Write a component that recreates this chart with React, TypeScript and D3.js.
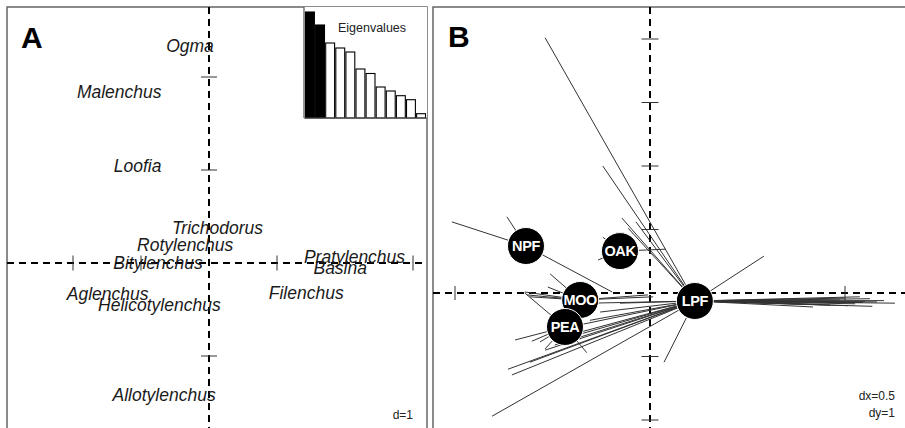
import React from "react";
import * as d3 from "d3";

const WIDTH = 905;
const HEIGHT = 428;
const FONT = "'Liberation Sans', Arial, sans-serif";

// panel A: genus scores
const genera = [
  "Ogma", "Malenchus", "Loofia", "Trichodorus", "Rotylenchus", "Bitylenchus",
  "Pratylenchus", "Basina", "Filenchus", "Aglenchus", "Helicotylenchus", "Allotylenchus"
];
const genusX = [-0.28, -1.32, -1.05, 0.125, -0.35, -0.75, 2.14, 1.93, 1.43, -1.49, -0.73, -0.66];
const genusY = [2.33, 1.84, 1.04, 0.376, 0.194, 0.0, 0.065, -0.054, -0.32, -0.333, -0.45, -1.42];
const ticksAX = [-2, -1, 1, 3];
const ticksAY = [-1, 1, 2];

// eigenvalue inset
const eigenvalues = [10.6, 9.3, 7.5, 7.0, 6.6, 4.9, 4.45, 3.1, 2.7, 2.23, 1.83, 0.43];
const keptAxes = 2;

// panel B: sites (class centroids) and samples
const sites = ["NPF", "OAK", "MOO", "PEA", "LPF"];
const siteX = [-0.318, -0.077, -0.179, -0.218, 0.115];
const siteY = [0.74, 0.66, -0.11, -0.535, -0.126];

const sampleSite = [
  "NPF", "NPF", "NPF",
  "OAK", "OAK", "OAK",
  "MOO", "MOO", "MOO", "MOO", "MOO", "MOO", "MOO",
  "PEA", "PEA", "PEA", "PEA", "PEA", "PEA",
  "LPF", "LPF", "LPF", "LPF", "LPF", "LPF", "LPF",
  "LPF", "LPF", "LPF", "LPF", "LPF", "LPF", "LPF", "LPF", "LPF", "LPF", "LPF",
  "LPF", "LPF", "LPF", "LPF", "LPF", "LPF",
  "LPF", "LPF", "LPF", "LPF", "LPF", "LPF", "LPF", "LPF", "LPF", "LPF", "LPF", "LPF", "LPF"
];
const sampleX = [
  -0.508, -0.367, -0.097,
  -0.121, -0.133, 0.041,
  -0.256, -0.262, -0.321, -0.315, -0.308, 0.008, -0.005,
  -0.321, -0.346, -0.303, -0.282, -0.162, -0.269,
  -0.269, -0.121, -0.072, -0.056, -0.036, 0.292, 0.036,
  0.628, 0.582, 0.538, 0.508, 0.418, 0.564, 0.526, 0.487, 0.462, 0.551, 0.385,
  0.6, 0.545, 0.5, 0.47, 0.44, 0.57,
  -0.405, -0.364, -0.354, -0.308, -0.269, -0.244, -0.231, -0.205, -0.179, -0.154, -0.128, -0.077, -0.154
];
const sampleY = [
  1.12, 1.2, 0.016,
  0.88, 0.52, 0.69,
  0.3, 0.094, 0.016, -0.03, -0.06, -0.06, -0.03,
  0.0, -0.74, -0.76, -0.77, -0.94, -0.88,
  4.02, 2.0, 1.18, 1.02, 1.12, 0.58, -1.09,
  -0.16, -0.14, -0.06, -0.2, -0.22, -0.09, -0.17, -0.11, -0.19, -0.13, -0.16,
  -0.12, -0.15, -0.08, -0.14, -0.18, -0.21,
  -1.94, -1.2, -1.29, -1.09, -0.9, -0.82, -0.74, -0.66, -0.5, -0.43, -0.3, -0.16, -0.16
];
const ticksBX = [-0.5, 0.5];
const ticksBY = [-2, -1, 1, 2, 3, 4];

const xA = d3.scaleLinear().domain([0, 1]).range([209, 277]);
const yA = d3.scaleLinear().domain([0, 1]).range([263, 170]);
const xB = d3.scaleLinear().domain([0, 0.5]).range([650, 845]);
const yB = d3.scaleLinear().domain([0, 1]).range([293, 229.5]);

const eigX = d3.scaleBand<number>().domain(d3.range(eigenvalues.length)).range([305.5, 425.5]).paddingInner(0.12);
const eigY = d3.scaleLinear().domain([0, 11.1]).range([118, 7]);

const dash = "7,5";

export default function App() {
  const centre = (name: string) => {
    const i = sites.indexOf(name);
    return [xB(siteX[i]), yB(siteY[i])];
  };

  return (
    <svg width={WIDTH} height={HEIGHT} style={{ position: "absolute", left: 0, top: 0, background: "#fff" }} fontFamily={FONT}>
      {/* ---- panel A ---- */}
      <rect x={7} y={7} width={420} height={428} fill="none" stroke="#666" strokeWidth={1.5} />
      <line x1={7} x2={427} y1={yA(0)} y2={yA(0)} stroke="#000" strokeWidth={2} strokeDasharray={dash} />
      <line x1={xA(0)} x2={xA(0)} y1={7} y2={428} stroke="#000" strokeWidth={2} strokeDasharray={dash} />
      {ticksAX.map(t => (
        <line key={"ax" + t} x1={xA(t)} x2={xA(t)} y1={yA(0) - 7.5} y2={yA(0) + 7.5} stroke="#333" strokeWidth={1} />
      ))}
      {ticksAY.map(t => (
        <line key={"ay" + t} x1={xA(0) - 8} x2={xA(0) + 8} y1={yA(t)} y2={yA(t)} stroke="#333" strokeWidth={1} />
      ))}
      {genera.map((g, i) => (
        <text key={g} x={xA(genusX[i])} y={yA(genusY[i])} dy="0.35em" textAnchor="middle"
          fontSize={17.5} fontStyle="italic" fill="#1a1a1a">{g}</text>
      ))}
      <text x={21} y={48} fontSize={30} fontWeight="bold" fill="#000">A</text>
      <text x={413} y={419} textAnchor="end" fontSize={12} fill="#222">d=1</text>

      {/* eigenvalue inset */}
      <rect x={304} y={7} width={123} height={111} fill="#fff" />
      {eigenvalues.map((v, i) => (
        <rect key={"e" + i} x={eigX(i)} y={eigY(v)} width={eigX.bandwidth()} height={eigY(0) - eigY(v)}
          fill={i < keptAxes ? "#000" : "#fff"} stroke="#000" strokeWidth={1.1} />
      ))}
      <line x1={304} x2={304} y1={7} y2={118} stroke="#555" strokeWidth={1.2} />
      <line x1={304} x2={427} y1={118} y2={118} stroke="#555" strokeWidth={1.2} />
      <text x={372} y={32} textAnchor="middle" fontSize={12.5} fill="#222">Eigenvalues</text>

      {/* ---- panel B ---- */}
      <rect x={433} y={7} width={480} height={428} fill="none" stroke="#666" strokeWidth={1.5} />
      <line x1={433} x2={905} y1={yB(0)} y2={yB(0)} stroke="#000" strokeWidth={2} strokeDasharray={dash} />
      <line x1={xB(0)} x2={xB(0)} y1={7} y2={428} stroke="#000" strokeWidth={2} strokeDasharray={dash} />
      {ticksBX.map(t => (
        <line key={"bx" + t} x1={xB(t)} x2={xB(t)} y1={yB(0) - 7} y2={yB(0) + 7} stroke="#333" strokeWidth={1} />
      ))}
      {ticksBY.map(t => (
        <line key={"by" + t} x1={xB(0) - 8.5} x2={xB(0) + 8.5} y1={yB(t)} y2={yB(t)} stroke="#333" strokeWidth={1} />
      ))}
      {sampleSite.map((s, i) => {
        const [cx, cy] = centre(s);
        return (
          <line key={"s" + i} x1={cx} y1={cy} x2={xB(sampleX[i])} y2={yB(sampleY[i])} stroke="#333" strokeWidth={1} />
        );
      })}
      {sites.map((s, i) => (
        <circle key={"c" + s} cx={xB(siteX[i])} cy={yB(siteY[i])} r={18.5} fill="#000" stroke="#fff" strokeWidth={1} />
      ))}
      {sites.map((s, i) => (
        <text key={"t" + s} x={xB(siteX[i])} y={yB(siteY[i])} dy="0.36em" textAnchor="middle"
          fontSize={14.5} fontWeight="bold" fill="#fff" letterSpacing={-0.4}>{s}</text>
      ))}
      <text x={448} y={47} fontSize={30} fontWeight="bold" fill="#000">B</text>
      <text x={895} y={400} textAnchor="end" fontSize={12} fill="#222">dx=0.5</text>
      <text x={895} y={417} textAnchor="end" fontSize={12} fill="#222">dy=1</text>
    </svg>
  );
}
